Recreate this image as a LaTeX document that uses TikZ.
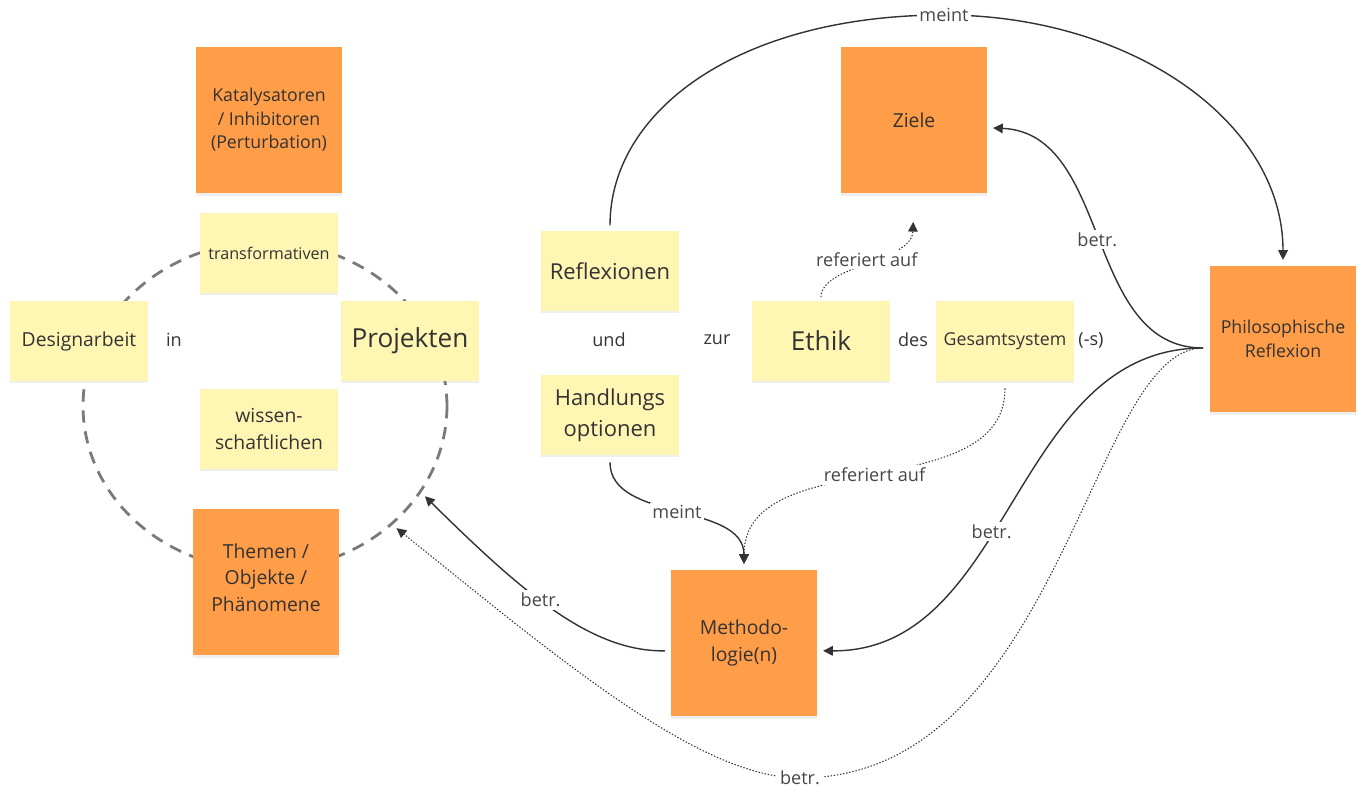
\documentclass[tikz,border=0pt]{standalone}
\usepackage{fontspec}
\setmainfont{Open Sans}
\usetikzlibrary{arrows.meta,shapes.geometric,shadows}
\definecolor{stickyY}{HTML}{FFF6B4}
\definecolor{stickyO}{HTML}{FF9D48}
\definecolor{ink}{HTML}{333333}
\definecolor{ringgray}{HTML}{7A7A7A}

\begin{document}
\begin{tikzpicture}[x=0.02cm,y=-0.02cm,
    note/.style={fill=stickyY, minimum width=2.76cm, minimum height=1.6cm, text=ink, align=center, inner sep=2pt,
      drop shadow={shadow xshift=0pt, shadow yshift=-1.2pt, opacity=0.12}},
    bignote/.style={note, fill=stickyO, minimum width=2.94cm, minimum height=2.94cm},
    word/.style={text=ink, font=\fontsize{10.3}{13}\selectfont},
    t80/.style={font=\fontsize{9.2}{13}\selectfont},
    t88/.style={font=\fontsize{10.1}{13.3}\selectfont},
    t96/.style={font=\fontsize{11}{14.9}\selectfont},
    t108/.style={font=\fontsize{12.5}{17.6}\selectfont},
    t130/.style={font=\fontsize{14.9}{18}\selectfont},
    conn/.style={-{Triangle[length=5.5pt,width=5.5pt]}, draw=ink, line width=0.8pt, shorten >=3pt},
    dots/.style={densely dotted, line width=0.6pt},
    lbl/.style={fill=white, text=ink!90, inner sep=1.5pt, font=\fontsize{10.3}{13}\selectfont}]
  \fill[white] (0,0) rectangle (1360,787);
  \useasboundingbox (0,0) rectangle (1360,787);

  % dashed ring round the left group
  \node[ellipse, draw=ringgray, line width=1.6pt, dash pattern=on 7pt off 5pt,
        minimum width=7.28cm, minimum height=6.56cm] (ring) at (265,406) {};

  % left group
  \node[bignote,t88] (kat) at (269,120) {Katalysatoren\\/ Inhibitoren\\(Perturbation)};
  \node[note,t80] (trans) at (269,253) {transformativen};
  \node[note,t96] (design) at (79,341) {Designarbeit};
  \node[word] (in) at (174,340) {in};
  \node[note,t130] (proj) at (410,341) {Projekten};
  \node[note,t96] (wiss) at (269,429) {wissen-\\schaftlichen};
  \node[bignote,t96] (themen) at (266,582) {Themen /\\Objekte /\\Phänomene\vspace{5pt}};

  % right group
  \node[note,t108] (refl) at (610,271) {Reflexionen};
  \node[word] (und) at (609,340) {und};
  \node[note,t108] (hand) at (610,415) {Handlungs\\optionen};
  \node[word] (zur) at (717,340) {zur};
  \node[note,t130] (ethik) at (821,341) {Ethik};
  \node[word] (des) at (913,340) {des};
  \node[note,t88] (ges) at (1005,341) {Gesamtsystem};
  \node[word] (s) at (1091,340) {(-s)};
  \node[bignote,t96] (ziele) at (914,120) {Ziele};
  \node[bignote,t88] (phil) at (1283,339) {Philosophische\\Reflexion};
  \node[bignote,t96] (meth) at (744,643) {Methodo-\\logie(n)};
  \coordinate (ph) at (1203,348);

  % connectors
  \draw[conn,shorten <=3pt] (refl.north) .. controls (610,110) and (740,15) .. (944,15) node[lbl]{meint}
    .. controls (1130,15) and (1283,121) .. (phil.north);
  \draw[conn] (ph) .. controls (1084,348) and (1112,133) .. (ziele.-6) node[lbl,pos=0.5]{betr.};
  \draw[conn] (ph) .. controls (1012,348) and (1013,652) .. (meth.-6) node[lbl,pos=0.57]{betr.};
  \draw[conn,dots] (ph) .. controls (1090,348) and (1060,778) .. (800,778) node[lbl]{betr.}
    .. controls (700,778) and (560,660) .. (ring.-43);
  \draw[conn,shorten <=3pt] (meth.186) .. controls (590,652) and (520,590) .. (ring.-29) node[lbl,pos=0.55]{betr.};
  \draw[conn,shorten <=4pt] (hand.south) .. controls (610,522) and (744,502) .. (meth.north) node[lbl,pos=0.5]{meint};
  \draw[conn,dots,shorten <=4pt] (ges.south) .. controls (1005,507) and (744,443) .. (meth.north) node[lbl,pos=0.5]{referiert auf};
  \draw[conn,dots,shorten <=2pt,shorten >=16pt] (ethik.north) .. controls (821,265) and (912,262) .. (ziele.south) node[lbl,pos=0.5]{referiert auf};
\end{tikzpicture}
\end{document}
